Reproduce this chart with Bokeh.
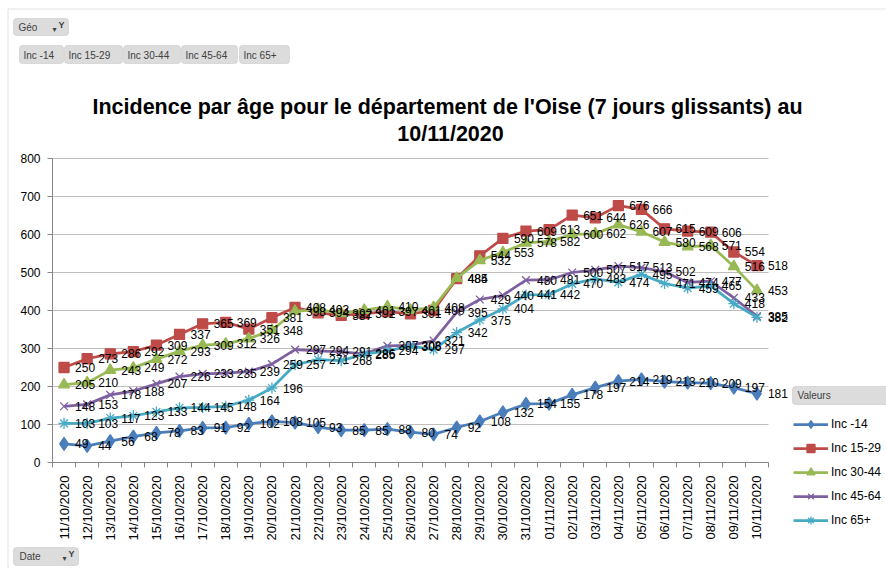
import numpy as np
from bokeh.plotting import figure
from bokeh.models import (ColumnDataSource, LabelSet, Label, BoxAnnotation, Legend,
                          LegendItem, FixedTicker, Range1d)
from bokeh.core.properties import value
from bokeh.embed import file_html
from bokeh.resources import INLINE

# ---------------- data ----------------
dates = ["11/10/2020", "12/10/2020", "13/10/2020", "14/10/2020", "15/10/2020",
         "16/10/2020", "17/10/2020", "18/10/2020", "19/10/2020", "20/10/2020",
         "21/10/2020", "22/10/2020", "23/10/2020", "24/10/2020", "25/10/2020",
         "26/10/2020", "27/10/2020", "28/10/2020", "29/10/2020", "30/10/2020",
         "31/10/2020", "01/11/2020", "02/11/2020", "03/11/2020", "04/11/2020",
         "05/11/2020", "06/11/2020", "07/11/2020", "08/11/2020", "09/11/2020",
         "10/11/2020"]
inc_moins14 = [49, 44, 56, 68, 78, 83, 91, 92, 102, 108, 105, 93, 85, 85, 88, 80, 74,
               92, 108, 132, 154, 155, 178, 197, 214, 219, 213, 210, 209, 197, 181]
inc_15_29 = [250, 273, 286, 292, 309, 337, 365, 369, 351, 381, 408, 394, 387, 392, 397,
             391, 400, 484, 544, 590, 609, 613, 651, 644, 676, 666, 615, 609, 606, 554, 518]
inc_30_44 = [205, 210, 243, 249, 272, 293, 309, 312, 326, 348, 398, 403, 392, 401, 410,
             401, 408, 485, 532, 553, 578, 582, 600, 602, 626, 607, 580, 568, 571, 516, 453]
inc_45_64 = [148, 153, 178, 188, 207, 226, 233, 235, 239, 259, 297, 294, 291, 286, 307,
             308, 321, 395, 429, 440, 480, 481, 500, 507, 517, 513, 502, 474, 477, 433, 385]
inc_65plus = [103, 103, 117, 123, 133, 144, 145, 148, 164, 196, 257, 271, 268, 285, 294,
              306, 297, 342, 375, 404, 441, 442, 470, 483, 474, 495, 471, 459, 465, 418, 382]
series_names = ["Inc -14", "Inc 15-29", "Inc 30-44", "Inc 45-64", "Inc 65+"]
y_ticks = [0, 100, 200, 300, 400, 500, 600, 700, 800]
title_lines = ["Incidence par âge pour le département de l'Oise  (7 jours glissants) au",
               "10/11/2020"]

# ---------------- layout / styles ----------------
colors = ["#4A7EBB", "#BE4B48", "#98B954", "#7D60A0", "#46AAC5"]
markers = ["diamond", "square", "triangle", "x", "asterisk"]
msizes = [13, 10, 11, 11, 11]
FONT = "Liberation Sans"
W, H = 886, 568            # the page template has no body margin
n = len(dates)
idx = list(range(n))

# pixel geometry of the plot area (canvas pixels)
PL, PR, PT, PB = 52, 768, 158, 462
YMAX = 800
PXX = (PR - PL) / n
PXY = (PB - PT) / YMAX


def dx(px):
    return -0.5 + (px - PL) / PXX


def dy(py):
    return (PB - py) / PXY


p = figure(width=W, height=H, output_backend="svg", toolbar_location=None,
           x_range=Range1d(dx(0), dx(W)), y_range=Range1d(dy(H), dy(0)),
           min_border_left=0, min_border_right=0, min_border_top=0, min_border_bottom=0)
p.outline_line_color = None
p.background_fill_color = "white"
p.border_fill_color = "white"
p.xgrid.visible = False
p.ygrid.visible = False

# horizontal gridlines limited to the plot area
p.segment(x0=[-0.5] * len(y_ticks), x1=[n - 0.5] * len(y_ticks), y0=y_ticks, y1=y_ticks,
          line_color="#BFBFBF", line_width=1)

p.yaxis.fixed_location = -0.5
p.yaxis.bounds = (0, YMAX)
p.yaxis.ticker = FixedTicker(ticks=y_ticks)
p.yaxis.axis_line_color = "#868686"
p.yaxis.major_tick_line_color = "#868686"
p.yaxis.major_tick_out = 5
p.yaxis.major_tick_in = 0
p.yaxis.minor_tick_line_color = None
p.yaxis.major_label_standoff = 7
p.yaxis.major_label_text_font = FONT
p.yaxis.major_label_text_font_size = "12px"
p.yaxis.major_label_text_color = "black"

p.xaxis.fixed_location = 0
p.xaxis.bounds = (-0.5, n - 0.5)
p.xaxis.ticker = FixedTicker(ticks=idx, minor_ticks=[i - 0.5 for i in range(n + 1)])
p.xaxis.major_label_overrides = {i: d for i, d in enumerate(dates)}
p.xaxis.major_label_orientation = np.pi / 2
p.xaxis.axis_line_color = "#868686"
p.xaxis.major_tick_line_color = None
p.xaxis.major_tick_out = 0
p.xaxis.major_tick_in = 0
p.xaxis.minor_tick_line_color = "#868686"
p.xaxis.minor_tick_out = 5
p.xaxis.minor_tick_in = 0
p.xaxis.major_label_standoff = 8
p.xaxis.major_label_text_font = FONT
p.xaxis.major_label_text_font_size = "13px"
p.xaxis.major_label_text_color = "black"


def box(x1, y1, x2, y2, fill="#DCDCDC", line="#A9A9A9", radius=3, alpha=1.0):
    p.add_layout(BoxAnnotation(left=dx(x1), right=dx(x2), top=dy(y1), bottom=dy(y2),
                               fill_color=fill, fill_alpha=alpha, line_color=line,
                               line_width=1, border_radius=radius))


def lab(text, x, y, size, bold=False, color="black", align="left", baseline="middle",
        font=FONT):
    p.add_layout(Label(x=dx(x), y=dy(y), text=text, text_font=font,
                       text_font_size=f"{size}px",
                       text_font_style="bold" if bold else "normal",
                       text_color=color, text_align=align, text_baseline=baseline))


# outer frame of the chart object (top and left edges visible)
box(7.5, 8.5, 950, 950, fill="white", line="#A0A0A0", radius=0, alpha=0.0)

# pivot-chart field buttons
box(13, 18, 68, 35)
lab("Géo", 18, 27, 10, color="#404040")
lab("▾", 52, 29, 8, color="#404040", font="DejaVu Sans")
lab("Y", 58, 24, 9, bold=True, color="#404040")
btn_x = [(19, 63), (64, 122), (123, 180), (181, 237), (239, 289)]
for (a, b), nm in zip(btn_x, series_names):
    box(a, 45, b, 63)
    lab(nm, a + 4, 54.5, 10, color="#404040")
box(13, 547, 78, 565)
lab("Date", 19, 556, 10, color="#404040")
lab("▾", 62, 558, 8, color="#404040", font="DejaVu Sans")
lab("Y", 68, 553, 9, bold=True, color="#404040")
box(792, 386, 920, 404)
lab("Valeurs", 797, 395, 10, color="#404040")

# title
lab(title_lines[0], 450, 106, 21.5, bold=True, align="center", baseline="alphabetic")
lab(title_lines[1], 450, 133, 21.5, bold=True, align="center", baseline="alphabetic")

# series
items = []
all_vals = [inc_moins14, inc_15_29, inc_30_44, inc_45_64, inc_65plus]
label_sets = []
for name, vals, col, mk, ms in zip(series_names, all_vals, colors, markers, msizes):
    src = ColumnDataSource(dict(x=idx, y=vals, lbl=[str(v) for v in vals]))
    ln = p.line("x", "y", source=src, line_color=col, line_width=2.75)
    sc = p.scatter("x", "y", source=src, marker=mk, size=ms, fill_color=col,
                   line_color=col, line_width=1.3)
    items.append(LegendItem(label=name, renderers=[ln, sc]))
    label_sets.append(LabelSet(x="x", y="y", text="lbl", source=src, x_offset=11,
                               text_baseline="middle", text_align="left",
                               text_font=value(FONT), text_font_size="12px",
                               text_color="black"))
for ls in label_sets:
    p.add_layout(ls)

legend = Legend(items=items, location=(793, H - 530))
legend.background_fill_alpha = 0
legend.border_line_color = None
legend.glyph_width = 35
legend.glyph_height = 20
legend.label_height = 20
legend.spacing = 4
legend.padding = 0
legend.margin = 0
legend.label_standoff = 3
legend.label_text_font = FONT
legend.label_text_font_size = "12px"
legend.label_text_color = "black"
p.add_layout(legend)

open("out.html", "w").write(file_html(p, INLINE))
